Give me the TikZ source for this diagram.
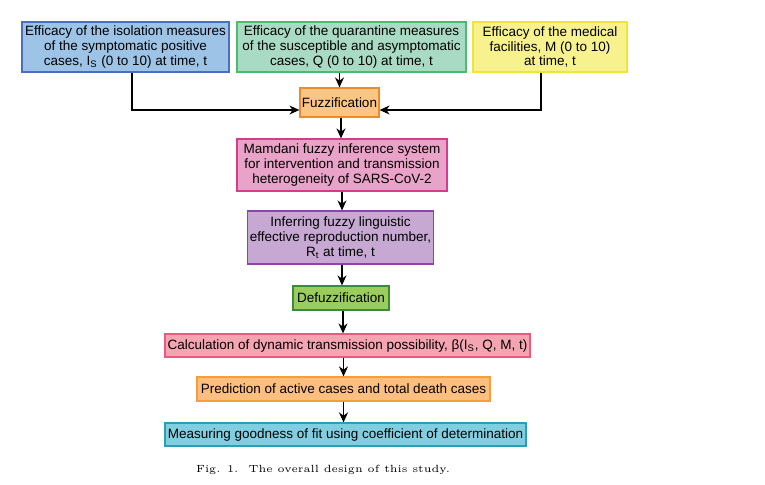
\documentclass[tikz,border=0pt]{standalone}
\usepackage{fontspec}
\setmainfont{Liberation Sans}
\usetikzlibrary{arrows.meta}
\newfontfamily\capfont{Latin Modern Roman}
\definecolor{cIso}  {HTML}{9DC3E6}
\definecolor{cIsoD} {HTML}{4A6FBE}
\definecolor{cQua}  {HTML}{A9DAC3}
\definecolor{cQuaD} {HTML}{4DBB6C}
\definecolor{cMed}  {HTML}{F7F18E}
\definecolor{cMedD} {HTML}{F0E43A}
\definecolor{cFuz}  {HTML}{FBC584}
\definecolor{cFuzD} {HTML}{EE8A2A}
\definecolor{cMam}  {HTML}{EAA3C8}
\definecolor{cMamD} {HTML}{D63C8C}
\definecolor{cInf}  {HTML}{C6A8D3}
\definecolor{cInfD} {HTML}{8E44AD}
\definecolor{cDef}  {HTML}{9ACD5B}
\definecolor{cDefD} {HTML}{3B8B3B}
\definecolor{cCal}  {HTML}{F5A4B1}
\definecolor{cCalD} {HTML}{E85A7E}
\definecolor{cPre}  {HTML}{FDBF7F}
\definecolor{cPreD} {HTML}{F59E3B}
\definecolor{cMea}  {HTML}{80CFE0}
\definecolor{cMeaD} {HTML}{2A9DB8}

\tikzset{
  blk/.style={draw,line width=0.6pt,align=center,inner sep=1pt,
    font=\fontsize{6.75}{7.4}\selectfont},
  arr/.style={-{Stealth[length=5pt,width=4.5pt]},line width=0.6pt}
}

\begin{document}
\begin{tikzpicture}[x=0.5pt,y=-0.5pt]
        \useasboundingbox (0,0) rectangle (765,484);
        % inputs
        \node[blk,fill=cIso,draw=cIsoD,minimum width=103.5pt,minimum height=25pt] (iso) at (125.5,47)
          {Efficacy of the isolation measures\\of the symptomatic positive\\cases, I\textsubscript{S} (0 to 10) at time, t};
        \node[blk,fill=cQua,draw=cQuaD,minimum width=114.5pt,minimum height=25pt] (qua) at (351.5,47)
          {Efficacy of the quarantine measures\\of the susceptible and asymptomatic\\cases, Q (0 to 10) at time, t};
        \node[blk,fill=cMed,draw=cMedD,minimum width=77pt,minimum height=25pt] (med) at (550,47)
          {Efficacy of the medical\\facilities, M (0 to 10)\\at time, t};
        % main chain
        \node[blk,fill=cFuz,draw=cFuzD,minimum width=39.5pt,minimum height=14.5pt] (fuz) at (339.5,102.5) {Fuzzification};
        \node[blk,fill=cMam,draw=cMamD,minimum width=105pt,minimum height=26pt] (mam) at (342,165)
          {Mamdani fuzzy inference system\\for intervention and transmission\\heterogeneity of SARS-CoV-2};
        \node[blk,fill=cInf,draw=cInfD,minimum width=92.5pt,minimum height=26.5pt] (inf) at (340.5,237.5)
          {Inferring fuzzy linguistic\\effective reproduction number,\\R\textsubscript{t} at time, t};
        \node[blk,fill=cDef,draw=cDefD,minimum width=48pt,minimum height=12pt] (def) at (341,298) {Defuzzification};
        \node[blk,fill=cCal,draw=cCalD,minimum width=182.5pt,minimum height=11.5pt] (cal) at (347.5,345.5)
          {Calculation of dynamic transmission possibility, β(I\textsubscript{S}, Q, M, t)};
        \node[blk,fill=cPre,draw=cPreD,minimum width=146.5pt,minimum height=12pt] (pre) at (343.5,389)
          {Prediction of active cases and total death cases};
        \node[blk,fill=cMea,draw=cMeaD,minimum width=180.5pt,minimum height=11.5pt] (mea) at (345.5,434.5)
          {Measuring goodness of fit using coefficient of determination};
        \node[font=\capfont\fontsize{5.2}{6.2}\selectfont] (cap) at (323,470)
          {Fig. 1.\quad The overall design of this study.};
        % connectors
        \draw[arr] ([xshift=3.25pt]iso.south) |- ([yshift=-3.75pt]fuz.west);
        \draw[arr] ([xshift=-4.5pt]med.south) |- ([yshift=-3.75pt]fuz.east);
        \draw[arr] (fuz.north |- qua.south) -- (fuz.north);
        \draw[arr] ([xshift=0.75pt]fuz.south) -- ([xshift=0.75pt]fuz.south |- mam.north);
        \draw[arr] (mam.south) -- (mam.south |- inf.north);
        \draw[arr] ([xshift=0.75pt]inf.south) -- ([xshift=0.75pt]inf.south |- def.north);
        \draw[arr] ([xshift=1pt]def.south) -- ([xshift=1pt]def.south |- cal.north);
        \draw[arr] ([xshift=-2pt]cal.south) -- ([xshift=-2pt]cal.south |- pre.north);
        \draw[arr] (pre.south) -- (pre.south |- mea.north);
      \end{tikzpicture}
\end{document}
